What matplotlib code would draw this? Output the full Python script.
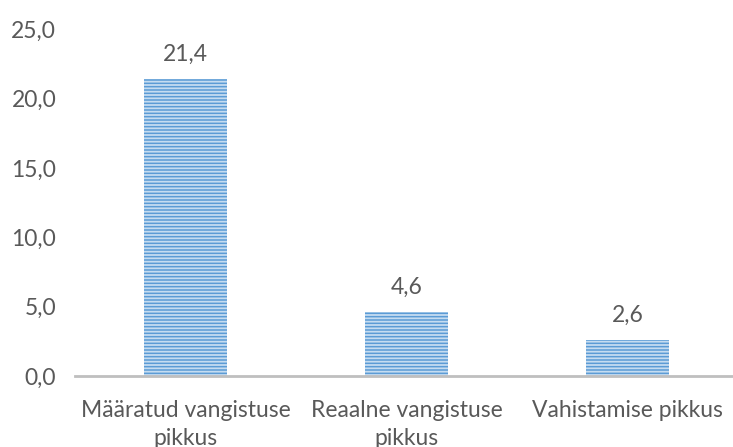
import matplotlib
matplotlib.use("Agg")
import matplotlib.pyplot as plt

categories = ["Määratud vangistuse\npikkus", "Reaalne vangistuse\npikkus", "Vahistamise pikkus"]
values = [21.4, 4.6, 2.6]
yticks = [0, 5, 10, 15, 20, 25]

plt.rcParams['font.family'] = ['Lato', 'DejaVu Sans']
plt.rcParams['hatch.color'] = '#C5DCF1'
plt.rcParams['hatch.linewidth'] = 1.3

W, H = 733, 447
fig = plt.figure(figsize=(W/100, H/100), dpi=100)
ax = fig.add_axes([75/W, 71/H, 663/W, 346.5/H])

x = range(len(categories))
bars = ax.bar(x, values, width=0.375, color='#5B9BD5', hatch='-----', linewidth=0)
for b in bars:
    b.set_edgecolor('#C5DCF1')

ax.set_xlim(-0.5, 2.5)
ax.set_ylim(0, 25)
ax.set_yticks(yticks)
ax.set_yticklabels([f"{v:.1f}".replace('.', ',') for v in yticks])
ax.set_xticks(list(x))
ax.set_xticklabels(categories, linespacing=1.45)

txt = '#595959'
ax.tick_params(axis='y', length=0, pad=13.5, labelsize=16.5, labelcolor=txt)
ax.tick_params(axis='x', length=0, pad=17, labelsize=16.5, labelcolor=txt)
for s in ['top', 'right', 'left']:
    ax.spines[s].set_visible(False)
ax.spines['bottom'].set_color('#BFBFBF')
ax.spines['bottom'].set_linewidth(2)

for xi, v in zip(x, values):
    ax.annotate(f"{v:.1f}".replace('.', ','), (xi, v), xytext=(0, 18), textcoords='offset points',
                ha='center', va='center', fontsize=16.5, color=txt)

fig.savefig('out.png', dpi=100)
